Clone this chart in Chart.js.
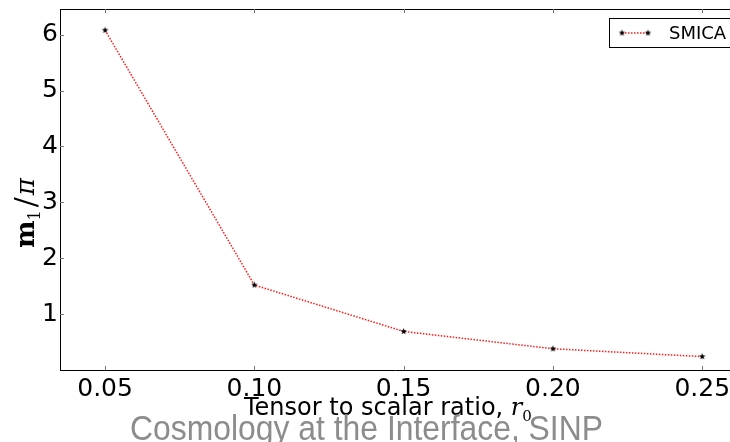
<!DOCTYPE html>
<html>
<head>
<meta charset="utf-8">
<script src="https://cdn.jsdelivr.net/npm/chart.js@4.4.1/dist/chart.umd.min.js"></script>
<style>
  html, body { margin: 0; padding: 0; background: #fff; overflow: hidden; }
  #wrap { width: 730px; height: 442px; }
  canvas { display: block; }
</style>
</head>
<body>
<div id="wrap"><canvas id="grafico" width="730" height="442"></canvas></div>
<script>
// datos
const ratios = [0.05, 0.10, 0.15, 0.20, 0.25];
const masaSMICA = [6.08, 1.52, 0.69, 0.38, 0.24];
const ticksX = [0.05, 0.10, 0.15, 0.20, 0.25];
const ticksY = [1, 2, 3, 4, 5, 6];
const nombreSerie = 'SMICA';
const textoEjeX = 'Tensor to scalar ratio, ';
const marcaAgua = 'Cosmology at the Interface, SINP';

// estrella rellena tipo matplotlib '*'
function crearEstrella(r) {
    const c = document.createElement('canvas');
    const s = Math.ceil(r * 2 + 2);
    c.width = s; c.height = s;
    const g = c.getContext('2d');
    g.fillStyle = '#000';
    g.beginPath();
    for (let i = 0; i < 10; i++) {
        const rad = i % 2 === 0 ? r : r * 0.42;
        const a = -Math.PI / 2 + i * Math.PI / 5;
        const px = s / 2 + rad * Math.cos(a);
        const py = s / 2 + rad * Math.sin(a);
        if (i === 0) g.moveTo(px, py); else g.lineTo(px, py);
    }
    g.closePath();
    g.fill();
    return c;
}
const estrella = crearEstrella(3.4);

// marcas internas, borde superior, leyenda, titulos y marca de agua
const extras = {
    id: 'extras',
    afterDraw(chart) {
        const ctx = chart.ctx;
        const area = chart.chartArea;
        const sx = chart.scales.x, sy = chart.scales.y;
        ctx.save();
        ctx.strokeStyle = '#000';
        ctx.lineWidth = 1;
        ctx.beginPath();
        ctx.moveTo(area.left, area.top + 0.5);
        ctx.lineTo(730, area.top + 0.5);
        ctx.stroke();

        ctx.strokeStyle = '#777';
        ticksX.forEach(v => {
            const px = Math.round(sx.getPixelForValue(v)) + 0.5;
            ctx.beginPath();
            ctx.moveTo(px, area.bottom); ctx.lineTo(px, area.bottom - 4);
            ctx.moveTo(px, area.top); ctx.lineTo(px, area.top + 4);
            ctx.stroke();
        });
        ticksY.forEach(v => {
            const py = Math.round(sy.getPixelForValue(v)) + 0.5;
            ctx.beginPath();
            ctx.moveTo(area.left, py); ctx.lineTo(area.left + 4, py);
            ctx.stroke();
        });

        // leyenda
        ctx.fillStyle = '#fff';
        ctx.fillRect(609.5, 18.5, 130, 29);
        ctx.strokeStyle = '#000';
        ctx.strokeRect(609.5, 18.5, 130, 29);
        ctx.strokeStyle = 'rgba(255,0,0,0.9)';
        ctx.lineWidth = 1.5;
        ctx.setLineDash([1.5, 1.5]);
        ctx.beginPath();
        ctx.moveTo(622, 33); ctx.lineTo(648, 33);
        ctx.stroke();
        ctx.setLineDash([]);
        ctx.drawImage(estrella, 622 - estrella.width / 2, 33 - estrella.height / 2);
        ctx.drawImage(estrella, 648 - estrella.width / 2, 33 - estrella.height / 2);
        ctx.fillStyle = '#000';
        ctx.font = '18px "DejaVu Sans"';
        ctx.textBaseline = 'middle';
        ctx.textAlign = 'left';
        ctx.fillText(nombreSerie, 669, 34);

        // titulo eje x
        ctx.textBaseline = 'alphabetic';
        ctx.font = '24px "DejaVu Sans"';
        ctx.fillText(textoEjeX, 244, 415);
        const w = ctx.measureText(textoEjeX).width;
        ctx.font = 'italic 24px "DejaVu Serif"';
        ctx.fillText('r', 244 + w, 415);
        const wr = ctx.measureText('r').width;
        ctx.font = '15px "DejaVu Serif"';
        ctx.fillText('0', 244 + w + wr, 421);

        // titulo eje y
        ctx.save();
        ctx.translate(34, 208);
        ctx.rotate(-Math.PI / 2);
        ctx.textAlign = 'left';
        let x0 = -40;
        ctx.font = 'bold 26px "DejaVu Serif"';
        ctx.fillText('m', x0, 0);
        x0 += ctx.measureText('m').width;
        ctx.font = '16px "DejaVu Serif"';
        ctx.fillText('1', x0, 6);
        x0 += ctx.measureText('1').width + 3;
        ctx.font = '30px "DejaVu Serif"';
        ctx.fillText('/', x0, 2);
        x0 += ctx.measureText('/').width + 2;
        ctx.font = 'italic 26px "DejaVu Serif"';
        ctx.fillText('\u03c0', x0, 0);
        ctx.restore();

        // marca de agua
        ctx.fillStyle = 'rgba(128,128,128,0.9)';
        ctx.font = '31px "Liberation Sans"';
        const ww = ctx.measureText(marcaAgua).width;
        ctx.save();
        ctx.translate(130, 440);
        ctx.scale(473 / ww, 1.12);
        ctx.fillText(marcaAgua, 0, 0);
        ctx.restore();
        ctx.restore();
    }
};

new Chart(document.getElementById('grafico').getContext('2d'), {
    type: 'line',
    data: {
        datasets: [{
            label: nombreSerie,
            data: ratios.map((r, i) => ({ x: r, y: masaSMICA[i] })),
            borderColor: 'rgba(255,0,0,0.9)',
            borderWidth: 1.5,
            borderDash: [1.5, 1.5],
            pointStyle: estrella,
            pointBackgroundColor: '#000',
            tension: 0,
            fill: false
        }]
    },
    options: {
        responsive: false,
        animation: false,
        devicePixelRatio: 1,
        layout: { autoPadding: false, padding: { top: 9, left: 0, right: 0, bottom: 0 } },
        plugins: { legend: { display: false }, tooltip: { enabled: false } },
        scales: {
            x: {
                type: 'linear',
                min: 0.0349,
                max: 0.2593,
                afterBuildTicks: s => { s.ticks = ticksX.map(v => ({ value: v })); },
                afterFit: s => { s.height = 72; s.paddingLeft = 0; s.paddingRight = 0; },
                ticks: {
                    callback: v => v.toFixed(2),
                    color: '#000',
                    padding: 4,
                    font: { family: 'DejaVu Sans', size: 25 },
                    maxRotation: 0
                },
                grid: { display: true, drawOnChartArea: false, drawTicks: false },
                border: { display: true, color: '#000', width: 1 }
            },
            y: {
                min: 0,
                max: 6.46,
                afterBuildTicks: s => { s.ticks = ticksY.map(v => ({ value: v })); },
                afterFit: s => { s.width = 60; s.paddingTop = 0; s.paddingBottom = 0; },
                ticks: {
                    color: '#000',
                    padding: 2,
                    font: { family: 'DejaVu Sans', size: 25 }
                },
                grid: { display: true, drawOnChartArea: false, drawTicks: false },
                border: { display: true, color: '#000', width: 1 }
            }
        }
    },
    plugins: [extras]
});
</script>
</body>
</html>
